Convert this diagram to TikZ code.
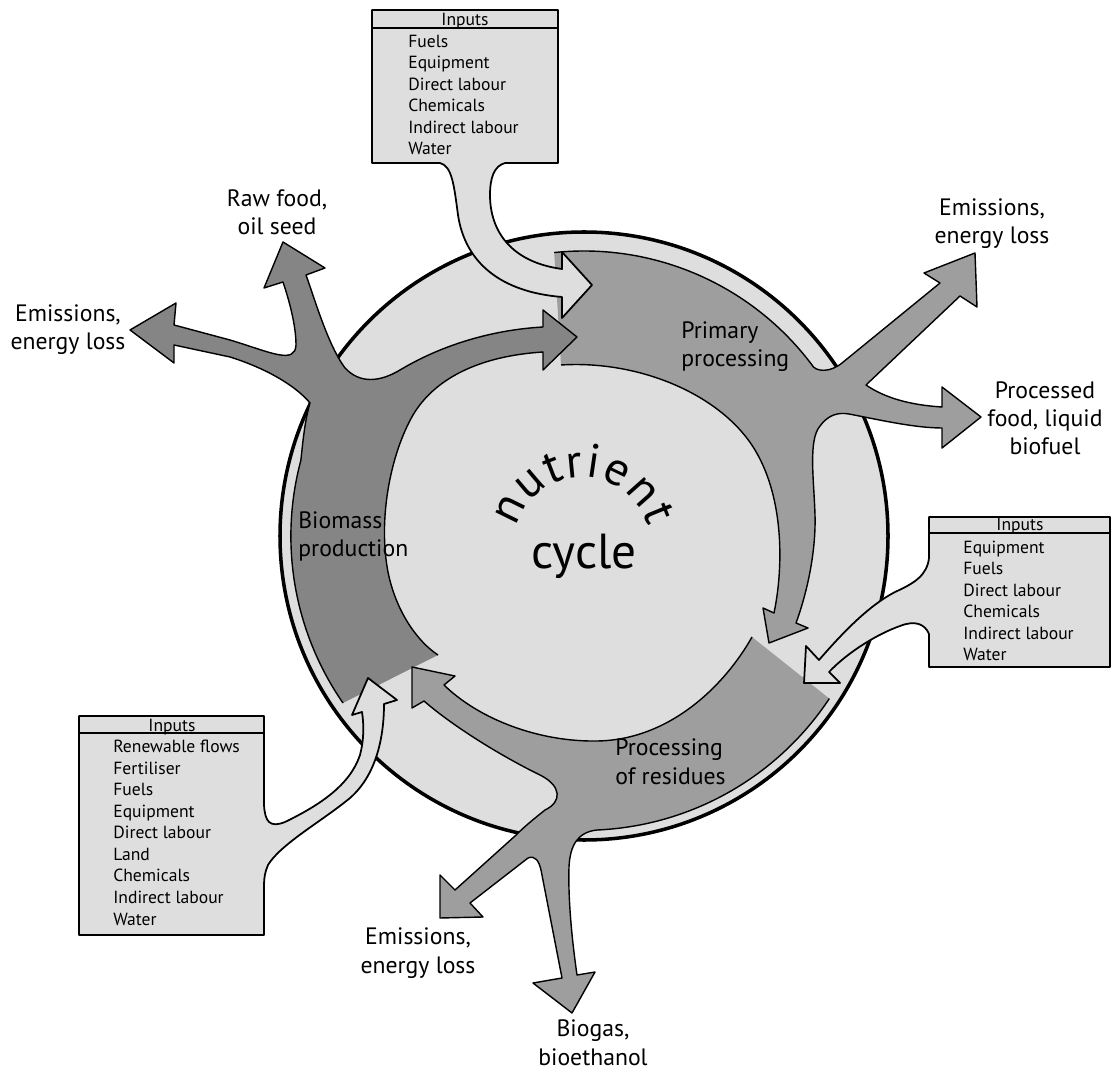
\documentclass[tikz,border=0pt]{standalone}
\usepackage{fontspec}
\setmainfont{PT Sans}
\usetikzlibrary{calc,decorations.text}
\definecolor{paperfill}{gray}{0.87}
\definecolor{biomassfill}{gray}{0.52}
\definecolor{flowfill}{gray}{0.62}
\newcommand{\nutfont}{\fontsize{27}{30}\selectfont}
\newcommand{\cycfont}{\fontsize{28}{30}\selectfont}

\begin{document}
\begin{tikzpicture}[x=0.02cm, y=-0.02cm,
        ring/.style={fill=paperfill, draw=black, line width=2pt},
        band/.style={draw=black, line width=0.8pt, line join=round},
        inbox/.style={fill=paperfill, draw=black, line width=1pt, line join=round},
        lbl/.style={font=\fontsize{13.5}{16.2}\selectfont, align=center, inner sep=0pt, anchor=base},
        tag/.style={font=\fontsize{13.5}{16.4}\selectfont, align=left, inner sep=0pt, anchor=base west},
        head/.style={font=\fontsize{10}{12.25}\selectfont, inner sep=0pt, anchor=base},
        items/.style={font=\fontsize{10}{12.25}\selectfont, align=left, inner sep=0pt, anchor=base west}
    ]
    \useasboundingbox (0,0) rectangle (1112,1070);
    \coordinate (C) at (584,536);
    \draw[ring] (C) circle[radius=304];

    % primary processing
    \path[band, fill=flowfill] (561,365)
        .. controls (640,360) and (722,395) .. (755,450)
        .. controls (785,500) and (783,570) .. (774,613) -- (763,608) -- (769,643) -- (808,628) -- (796,623)
        .. controls (808,590) and (816,550) .. (815,515)
        .. controls (814,480) and (808,440) .. (820,426)
        .. controls (828,415) and (838,412) .. (849,414)
        .. controls (880,420) and (915,428) .. (942,428) -- (942,448) -- (981,417) -- (942,387) -- (942,407)
        .. controls (910,405) and (885,398) .. (866,385) -- (960,296) -- (977,307) -- (975,253) -- (924,273) -- (940,283) -- (842,363)
        .. controls (830,373) and (815,372) .. ($(C)+(-37:285)$) arc[start angle=-37, end angle=-96, radius=285];

    % biomass production
    \path[band, fill=biomassfill] (343,703) arc[start angle=145.3, end angle=195, radius=293]
        .. controls (303,440) and (305,420) .. (310,403)
        .. controls (295,385) and (265,368) .. (230,357) -- (174,345) -- (174,363) -- (130,330) -- (176,303) -- (174,325) -- (230,340)
        .. controls (270,352) and (295,365) .. (296,345)
        .. controls (296,325) and (289,300) .. (283,282) -- (264,288) -- (283,242) -- (325,268) -- (306,275)
        .. controls (315,300) and (328,345) .. (345,368)
        .. controls (360,384) and (380,382) .. (400,370)
        .. controls (440,346) and (490,330) .. (543,327) -- (543,310) -- (577,337) -- (543,370) -- (543,352)
        .. controls (480,356) and (435,378) .. (413,415)
        .. controls (390,455) and (378,520) .. (388,572)
        .. controls (396,612) and (418,642) .. (438,655);

    % processing of residues
    \path[band, fill=flowfill] (752,637)
        .. controls (725,685) and (670,740) .. (597,741)
        .. controls (540,742) and (480,720) .. (444,685) -- (455,676) -- (412,667) -- (412,708) -- (424,701)
        .. controls (455,728) and (505,758) .. (540,775)
        .. controls (562,786) and (562,802) .. (545,810)
        .. controls (535,818) and (525,826) .. (515,836) -- (455,890) -- (440,875) -- (440,918) -- (483,917) -- (470,903) -- (528,858)
        .. controls (535,855) and (539,861) .. (541,870) -- (562,978) -- (533,983) -- (572,1013) -- (595,972) -- (577,975)
        .. controls (572,940) and (568,900) .. (569,867)
        .. controls (570,845) and (578,832) .. (597,830) arc[start angle=87.5, end angle=33.5, radius=294];

    % input boxes
    \draw[inbox] (372,10) -- (558,10) -- (558,163) -- (505,163)
        .. controls (494,166) and (490,178) .. (490,195)
        .. controls (490,230) and (510,262) .. (562,269) -- (562,252) -- (592,285) -- (562,318) -- (562,297)
        .. controls (500,292) and (465,262) .. (458,215)
        .. controls (454,185) and (452,166) .. (440,163) -- (372,163) -- cycle;
    \draw[line width=1pt] (372,28) -- (558,28);

    \draw[inbox] (929,517) -- (1110,517) -- (1110,667) -- (929,667) -- (929,634)
        .. controls (925,624) and (915,620) .. (900,626)
        .. controls (880,633) and (850,650) .. (829,672) -- (840,683) -- (804,683) -- (806,646) -- (819,660)
        .. controls (845,630) and (870,605) .. (895,592)
        .. controls (915,583) and (927,575) .. (929,558) -- cycle;
    \draw[line width=1pt] (929,533) -- (1110,533);

    \draw[inbox] (79,716) -- (264,716) -- (264,805)
        .. controls (265,822) and (270,828) .. (285,822)
        .. controls (320,805) and (350,785) .. (360,755)
        .. controls (364,740) and (364,725) .. (362,712) -- (352,715) -- (368,678) -- (397,700) -- (384,704)
        .. controls (384,740) and (375,780) .. (345,802)
        .. controls (320,822) and (280,845) .. (268,865)
        .. controls (265,872) and (264,878) .. (264,885) -- (264,935) -- (79,935) -- cycle;
    \draw[line width=1pt] (79,733) -- (264,733);

    \node[head] (intop) at (465,26) {Inputs};
    \node[items] (listtop) at (408,155) {Fuels\\Equipment\\Direct labour\\Chemicals\\Indirect labour\\Water};
    \node[head] (inright) at (1020,531) {Inputs};
    \node[items] (listright) at (963,661) {Equipment\\Fuels\\Direct labour\\Chemicals\\Indirect labour\\Water};
    \node[head] (inleft) at (172,731) {Inputs};
    \node[items] (listleft) at (113,925) {Renewable flows\\Fertiliser\\Fuels\\Equipment\\Direct labour\\Land\\Chemicals\\Indirect labour\\Water};

    \node[lbl] (emright) at (992,244) {Emissions,\\energy loss};
    \node[lbl] (procfood) at (1045,455) {Processed\\food, liquid\\biofuel};
    \node[lbl] (emleft) at (68,350) {Emissions,\\energy loss};
    \node[lbl] (rawfood) at (277,235) {Raw food,\\oil seed};
    \node[lbl] (embottom) at (418,973) {Emissions,\\energy loss};
    \node[lbl] (biogas) at (593,1065) {Biogas,\\bioethanol};
    \node[tag] (primary) at (681,367) {Primary\\processing};
    \node[tag] (biomass) at (298,557) {Biomass\\production};
    \node[tag] (residues) at (615,784) {Processing\\of residues};

    \path[decorate, decoration={text along path, text align=center,
            text={|\nutfont|n{\kern1.2pt}u{\kern1.2pt}t{\kern1.2pt}r{\kern1.2pt}i{\kern1.2pt}e{\kern1.2pt}n{\kern1.2pt}t}}]
        (514,545) arc[start angle=180, end angle=360, radius=68];
    \node[font=\cycfont, anchor=base, inner sep=0pt] (cycle) at (584,569) {cycle};
\end{tikzpicture}
\end{document}
